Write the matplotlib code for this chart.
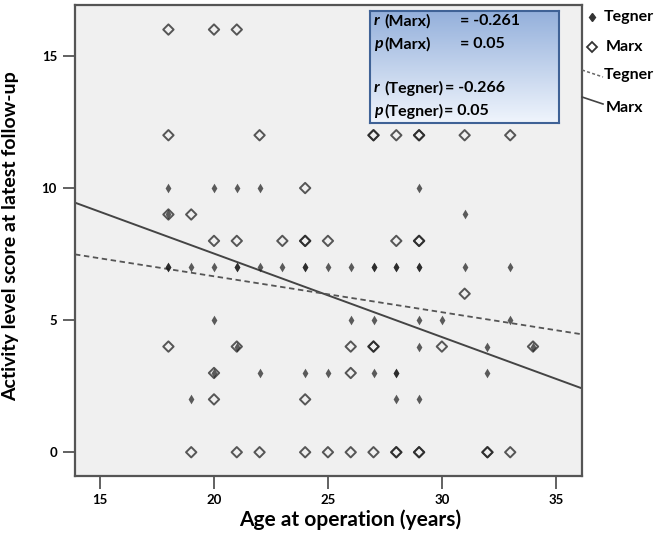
import numpy as np
import matplotlib
matplotlib.use("Agg")
import matplotlib.pyplot as plt
from matplotlib.lines import Line2D

plt.rcParams['font.family'] = ['Lato', 'DejaVu Sans']

# Marx activity score vs age (open diamonds), duplicates = overlapping patients
marx_age = [18, 20, 21,
            18, 22, 27, 27, 28, 29, 29, 31, 33,
            24,
            18, 19,
            20, 21, 23, 24, 24, 25, 28, 29, 29,
            31,
            18, 21, 26, 27, 27, 30, 34,
            20, 26,
            20, 24,
            19, 21, 22, 24, 25, 26, 27, 28, 28, 29, 29, 32, 32, 33]
marx_score = [16, 16, 16,
              12, 12, 12, 12, 12, 12, 12, 12, 12,
              10,
              9, 9,
              8, 8, 8, 8, 8, 8, 8, 8, 8,
              6,
              4, 4, 4, 4, 4, 4, 4,
              3, 3,
              2, 2,
              0, 0, 0, 0, 0, 0, 0, 0, 0, 0, 0, 0, 0, 0]

# Tegner activity score vs age (small diamonds)
tegner_age = [18, 20, 21, 22, 29,
              18, 31,
              18, 18, 19, 20, 21, 21, 22, 23, 24, 24, 25, 26, 27, 27, 28, 28, 29, 29, 31, 33,
              20, 26, 27, 29, 30, 33,
              21, 29, 32, 34,
              20, 22, 24, 25, 27, 28, 28, 32,
              19, 28, 29]
tegner_score = [10, 10, 10, 10, 10,
                9, 9,
                7, 7, 7, 7, 7, 7, 7, 7, 7, 7, 7, 7, 7, 7, 7, 7, 7, 7, 7, 7,
                5, 5, 5, 5, 5, 5,
                4, 4, 4, 4,
                3, 3, 3, 3, 3, 3, 3, 3,
                2, 2, 2]

# fit lines: (intercept at age 15, slope)
marx_fit = (9.10, -0.316)
tegner_fit = (7.34, -0.136)

stats_lines = [("r", "(Marx)", "= -0.261"),
               ("p", "(Marx)", "= 0.05"),
               ("r", "(Tegner)", "= -0.266"),
               ("p", "(Tegner)", "= 0.05")]

W, H = 660, 538
fig = plt.figure(figsize=(W / 100, H / 100), dpi=100)


def fx(px):
    return px / W


def fy(py):
    return 1 - py / H


ax = fig.add_axes([fx(75), fy(476), fx(582) - fx(75), fy(5) - fy(476)])
ax.set_facecolor("#f0f0f0")
xlim = (13.9, 36.15)
ax.set_xlim(*xlim)
ax.set_ylim(-0.9, 16.93)

ax.scatter(tegner_age, tegner_score, marker="d", s=24, color="#1a1a1a",
           alpha=0.7, linewidths=0, zorder=3)
ax.scatter(marx_age, marx_score, marker="D", s=28, facecolors="none",
           edgecolors="#222222", linewidths=1.4, alpha=0.75, zorder=3)

xs = np.array(xlim)
ax.plot(xs, marx_fit[0] + marx_fit[1] * (xs - 15), color="#444444", lw=1.4, zorder=2)
ax.plot(xs, tegner_fit[0] + tegner_fit[1] * (xs - 15), color="#555555", lw=1.3,
        ls=(0, (3, 2)), zorder=2)

ax.set_xticks([15, 20, 25, 30, 35])
ax.set_yticks([0, 5, 10, 15])
ax.tick_params(direction="out", length=9, width=1.3, color="#555555",
               labelsize=9.5, pad=4)
for lab in ax.get_xticklabels() + ax.get_yticklabels():
    lab.set_fontweight("bold")
for sp in ax.spines.values():
    sp.set_color("#555555")
    sp.set_linewidth(1.6)

ax.set_xlabel("Age at operation (years)", fontsize=15, fontweight="bold")
ax.xaxis.set_label_coords(0.542, -0.072)
ax.set_ylabel("Activity level score at latest follow-up", fontsize=14,
              fontweight="bold")
ax.yaxis.set_label_coords(-0.11, 0.51)

# stats box with blue gradient
box = fig.add_axes([fx(370), fy(123), fx(559) - fx(370), fy(11) - fy(123)])
grad = np.linspace(0, 1, 256).reshape(-1, 1)
top = np.array([0.58, 0.69, 0.86])
bot = np.array([0.94, 0.96, 0.99])
img = top[None, None, :] * (1 - grad[:, :, None]) + bot[None, None, :] * grad[:, :, None]
box.imshow(img, aspect="auto", extent=[0, 1, 0, 1])
box.set_xticks([])
box.set_yticks([])
for sp in box.spines.values():
    sp.set_color("#3f6296")
    sp.set_linewidth(1.5)

line_y = [21, 44, 88, 111]
eq_x = [460, 460, 445, 444]
for (sym, name, val), py, ex in zip(stats_lines, line_y, eq_x):
    fig.text(fx(374), fy(py), sym, fontsize=11.5, fontweight="bold",
             fontstyle="italic", va="center", ha="left")
    fig.text(fx(384), fy(py), name, fontsize=11.5, fontweight="bold",
             va="center", ha="left")
    fig.text(fx(ex), fy(py), val, fontsize=11.5, fontweight="bold",
             va="center", ha="left")

# legend outside the plot
fig.add_artist(Line2D([fx(592)], [fy(17)], marker="d", ms=4.5, color="#333333",
                      lw=0))
fig.text(fx(604), fy(17), "Tegner", fontsize=11.5, fontweight="bold", va="center")
fig.add_artist(Line2D([fx(592)], [fy(47)], marker="D", ms=5.5, mfc="none",
                      mec="#333333", mew=1.3, lw=0))
fig.text(fx(606), fy(47), "Marx", fontsize=11.5, fontweight="bold", va="center")
fig.add_artist(Line2D([fx(582), fx(603)], [fy(70), fy(77)], color="#666666",
                      lw=1.1, ls=(0, (2, 1.5))))
fig.text(fx(604), fy(75), "Tegner", fontsize=11.5, fontweight="bold", va="center")
fig.add_artist(Line2D([fx(582), fx(603)], [fy(97), fy(104)], color="#444444", lw=1.2))
fig.text(fx(606), fy(108), "Marx", fontsize=11.5, fontweight="bold", va="center")

fig.savefig("out.png", dpi=100)
